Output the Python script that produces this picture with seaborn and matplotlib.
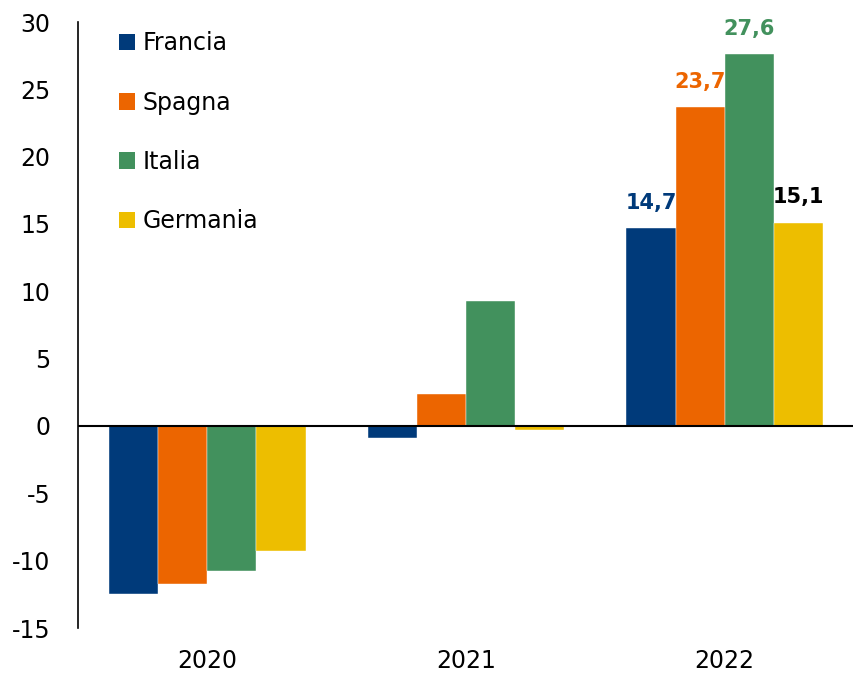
import pandas as pd
import matplotlib.pyplot as plt
import seaborn as sns
from matplotlib.patches import Patch

anni = ['2020', '2021', '2022']
paesi = ['Francia', 'Spagna', 'Italia', 'Germania']
francia = [-12.5, -0.9, 14.7]
spagna = [-11.7, 2.4, 23.7]
italia = [-10.8, 9.3, 27.6]
germania = [-9.3, -0.3, 15.1]
colori = ['#003A7A', '#EC6500', '#42915D', '#EDBE00']
colori_etichette = ['#003A7A', '#EC6500', '#42915D', '#000000']

df = pd.DataFrame({
    'anno': anni * 4,
    'paese': [p for p in paesi for _ in anni],
    'valore': francia + spagna + italia + germania,
})

sns.set_style('white')
plt.rcParams['font.family'] = ['DejaVu Sans']
plt.rcParams['axes.unicode_minus'] = False

fig = plt.figure(figsize=(8.54, 6.74), dpi=100)
ax = fig.add_axes([78 / 854, 1 - 628 / 674, 1 - 78 / 854, (628 - 22) / 674])

sns.barplot(data=df, x='anno', y='valore', hue='paese', hue_order=paesi,
            palette=colori, saturation=1, width=0.76, ax=ax, legend=False,
            edgecolor='white', linewidth=0.3)

ax.set_xlim(-0.5, 2.5)
ax.set_ylim(-15, 30)
ax.set_yticks(range(-15, 31, 5))
ax.axhline(0, color='black', lw=1.5, zorder=5)

for s in ['top', 'right', 'bottom']:
    ax.spines[s].set_visible(False)
ax.spines['left'].set_color('black')
ax.spines['left'].set_linewidth(1.2)
ax.tick_params(axis='y', length=0, pad=20, labelsize=17, labelcolor='black')
ax.tick_params(axis='x', length=0, pad=15, labelsize=17, labelcolor='black')
ax.set_xlabel('')
ax.set_ylabel('')

# etichette solo per il 2022
for cont, serie, col in zip(ax.containers, [francia, spagna, italia, germania], colori_etichette):
    etich = ['', '', f'{serie[2]:.1f}'.replace('.', ',')]
    ax.bar_label(cont, labels=etich, padding=11, color=col,
                 fontsize=15, fontweight='bold')

handles = [Patch(facecolor=c, edgecolor='none') for c in colori]
leg = ax.legend(handles, paesi, loc='upper left', bbox_to_anchor=(0.025, 1.02),
                frameon=False, fontsize=17, handlelength=0.7, handleheight=0.7,
                handletextpad=0.3, labelspacing=1.5)
for t in leg.get_texts():
    t.set_color('black')

plt.savefig('out.png', dpi=100)
